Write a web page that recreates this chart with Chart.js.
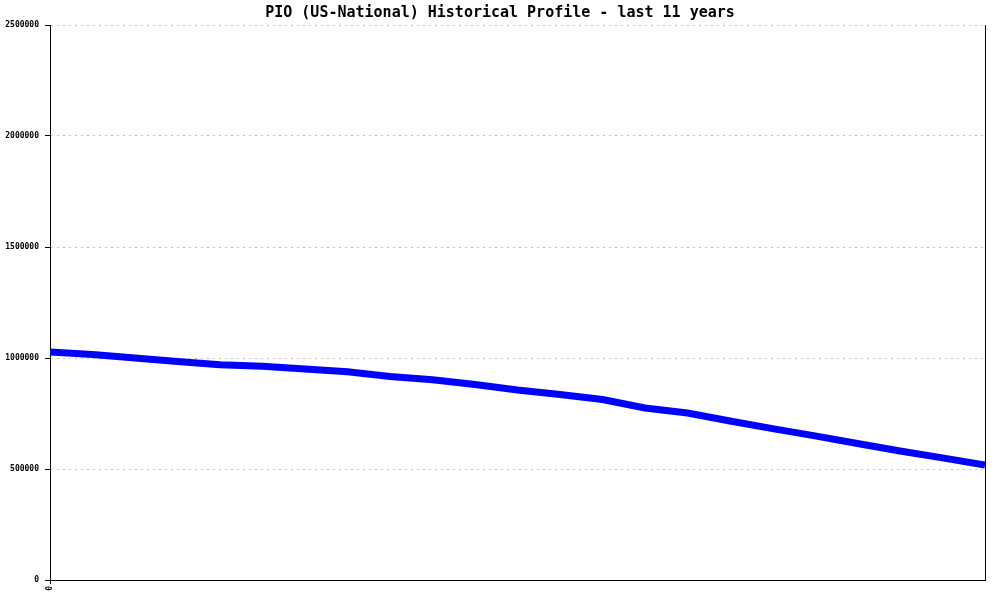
<!DOCTYPE html>
<html>
<head>
<meta charset="utf-8">
<script src="https://cdn.jsdelivr.net/npm/chart.js@4.4.1/dist/chart.umd.min.js"></script>
<style>
  html, body { margin: 0; padding: 0; background: #fff; }
  #wrap { width: 1000px; height: 600px; }
</style>
</head>
<body>
<div id="wrap"><canvas id="chart" width="1000" height="600"></canvas></div>
<script>
// half-year steps across the 11 year window
const periods = [0, 1, 2, 3, 4, 5, 6, 7, 8, 9, 10, 11, 12, 13, 14, 15, 16, 17, 18, 19, 20, 21, 22];
const values = [
  1027000, 1016000, 1000000, 984000, 970000, 963000, 950000, 938000,
  917000, 902000, 881000, 856000, 836000, 813000, 775000, 752000,
  716000, 682000, 649000, 615000, 581000, 550000, 518000,
];
const yTicks = [0, 500000, 1000000, 1500000, 2000000, 2500000];
const xTickLabels = ["0"];
const title = "PIO (US-National) Historical Profile - last 11 years";

const mono = "'DejaVu Sans Mono', 'Liberation Mono', monospace";

const points = periods.map((p, i) => ({ x: p, y: values[i] }));

new Chart(document.getElementById("chart"), {
  type: "line",
  data: {
    datasets: [
      {
        label: "PIO",
        data: points,
        borderColor: "#0000ff",
        borderWidth: 7,
        pointRadius: 0,
        tension: 0,
        fill: false,
      },
    ],
  },
  options: {
    responsive: false,
    animation: false,
    layout: { padding: 0 },
    plugins: {
      legend: { display: false },
      tooltip: { enabled: false },
      title: {
        display: true,
        text: title,
        color: "#000",
        font: { family: mono, size: 15, weight: "bold", lineHeight: 1.2 },
        padding: { top: 4, bottom: 3 },
      },
    },
    scales: {
      x: {
        type: "linear",
        min: periods[0],
        max: periods[periods.length - 1],
        afterBuildTicks: (scale) => {
          scale.ticks = xTickLabels.map((t) => ({ value: Number(t) }));
        },
        afterFit: (scale) => {
          scale.height = 20;
        },
        grid: { display: true, drawOnChartArea: false, tickLength: 4, tickColor: "#000" },
        border: { display: true, color: "#000", width: 1 },
        ticks: {
          color: "#000",
          maxRotation: 90,
          minRotation: 90,
          padding: 2,
          font: { family: mono, size: 8, weight: "bold" },
          callback: (v) => String(v),
        },
      },
      y: {
        type: "linear",
        min: 0,
        max: 2500000,
        afterBuildTicks: (scale) => {
          scale.ticks = yTicks.map((v) => ({ value: v }));
        },
        afterFit: (scale) => {
          scale.width = 50;
        },
        grid: { color: "#c0c0c0", lineWidth: 1, tickLength: 5, tickColor: "#000" },
        border: { display: true, color: "#000", width: 1, dash: [2, 4] },
        ticks: {
          color: "#000",
          padding: 6,
          font: { family: mono, size: 8, weight: "bold" },
          callback: (v) => String(v),
        },
      },
      y2: {
        type: "linear",
        position: "right",
        min: 0,
        max: 2500000,
        afterFit: (scale) => {
          scale.width = 15;
        },
        grid: { display: false },
        border: { display: true, color: "#000", width: 1 },
        ticks: { display: false },
      },
    },
  },
});
</script>
</body>
</html>
